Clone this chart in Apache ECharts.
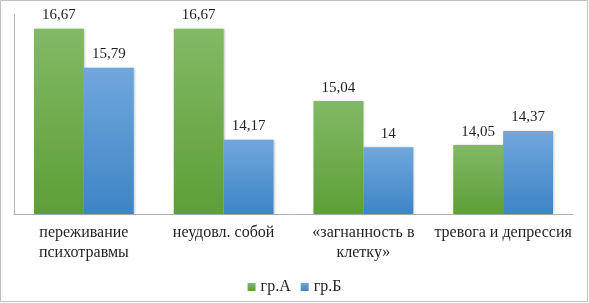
<!DOCTYPE html>
<html>
<head>
<meta charset="utf-8">
<script src="https://cdn.jsdelivr.net/npm/echarts@6/dist/echarts.min.js"></script>
<style>
  html, body { margin: 0; padding: 0; background: #fff; }
  #chart { width: 589px; height: 303px; }
</style>
</head>
<body>
<div id="chart"></div>
<script>
var categories = ['переживание\nпсихотравмы', 'неудовл. собой', '«загнанность в\nклетку»', 'тревога и депрессия'];
var groupA = [16.67, 16.67, 15.04, 14.05];
var groupB = [15.79, 14.17, 14, 14.37];
var seriesNames = ['гр.А', 'гр.Б'];

var myChart = echarts.init(document.getElementById('chart'));
var serif = '"Liberation Serif", "DejaVu Serif", serif';

function fmt(p) {
    return String(p.value).replace('.', ',');
}

var greenFill = new echarts.graphic.LinearGradient(0, 0, 0, 1, [
    { offset: 0, color: '#82b965' },
    { offset: 1, color: '#5d9f37' }
]);
var blueFill = new echarts.graphic.LinearGradient(0, 0, 0, 1, [
    { offset: 0, color: '#70a7dc' },
    { offset: 1, color: '#3e84c6' }
]);

var option = {
    animation: false,
    backgroundColor: '#fff',
    graphic: [{
        type: 'rect',
        shape: { x: 0.5, y: 0.5, width: 587, height: 301 },
        style: { fill: 'none', stroke: '#c0c0c0', lineWidth: 1 },
        silent: true
    }],
    grid: { left: 14, top: 14, width: 559, height: 200 },
    legend: {
        data: seriesNames,
        left: 'center',
        top: 274,
        icon: 'rect',
        itemWidth: 8,
        itemHeight: 8,
        itemGap: 10,
        textStyle: { fontFamily: serif, fontSize: 16, color: '#1f1f1f' }
    },
    xAxis: {
        type: 'category',
        data: categories,
        axisTick: { show: false },
        axisLine: { lineStyle: { color: '#b3b3b3' } },
        axisLabel: {
            fontFamily: serif,
            fontSize: 16,
            color: '#1f1f1f',
            lineHeight: 20,
            margin: 9,
            interval: 0
        }
    },
    yAxis: {
        type: 'value',
        min: 12.5,
        max: 17,
        axisLine: { show: true, lineStyle: { color: '#b3b3b3' } },
        axisTick: { show: false },
        axisLabel: { show: false },
        splitLine: { show: false }
    },
    series: [
        {
            name: seriesNames[0],
            type: 'bar',
            data: groupA,
            barGap: '0%',
            barCategoryGap: '28.6%',
            itemStyle: { color: greenFill, shadowBlur: 2, shadowColor: 'rgba(0,0,0,0.2)', shadowOffsetX: 1 },
            label: {
                show: true,
                position: 'top',
                distance: 6,
                formatter: fmt,
                fontFamily: serif,
                fontSize: 15,
                color: '#1f1f1f'
            }
        },
        {
            name: seriesNames[1],
            type: 'bar',
            data: groupB,
            itemStyle: { color: blueFill, shadowBlur: 2, shadowColor: 'rgba(0,0,0,0.2)', shadowOffsetX: 1 },
            label: {
                show: true,
                position: 'top',
                distance: 6,
                formatter: fmt,
                fontFamily: serif,
                fontSize: 15,
                color: '#1f1f1f'
            }
        }
    ]
};
myChart.setOption(option);
</script>
</body>
</html>
